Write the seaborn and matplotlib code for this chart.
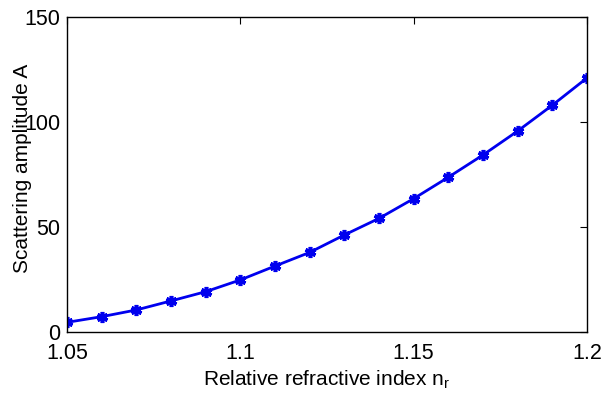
import numpy as np
import pandas as pd
import seaborn as sns
import matplotlib
matplotlib.use("Agg")
import matplotlib.pyplot as plt

# Relative refractive index and the resulting scattering amplitude
n_r = [1.05, 1.06, 1.07, 1.08, 1.09, 1.10, 1.11, 1.12,
       1.13, 1.14, 1.15, 1.16, 1.17, 1.18, 1.19, 1.20]
amplitude = [4.6, 7.3, 10.5, 14.8, 19.2, 24.8, 31.4, 37.9,
             46.2, 54.1, 63.5, 73.7, 84.3, 95.7, 108.0, 121.0]

x_ticks = [1.05, 1.1, 1.15, 1.2]
x_tick_labels = ["1.05", "1.1", "1.15", "1.2"]
y_ticks = [0, 50, 100, 150]

df = pd.DataFrame({"n_r": n_r, "A": amplitude})

sns.set_theme(style="white")
plt.rcParams["font.family"] = ["Liberation Sans", "DejaVu Sans"]
plt.rcParams["mathtext.fontset"] = "custom"
plt.rcParams["mathtext.rm"] = "Liberation Sans"
plt.rcParams["mathtext.it"] = "Liberation Sans"
plt.rcParams["text.color"] = "black"
plt.rcParams["axes.labelcolor"] = "black"

fig = plt.figure(figsize=(6.05, 4.0), dpi=100)
ax = fig.add_axes([67 / 605, 68 / 400, 520 / 605, 315 / 400])

sns.lineplot(data=df, x="n_r", y="A", ax=ax, color="#0000ee",
             linewidth=2.0, marker=(6, 2, 0), markersize=8,
             markeredgewidth=2.6, markeredgecolor="#0000ee")

ax.set_xlim(1.05, 1.2)
ax.set_ylim(0, 150)
ax.set_xticks(x_ticks)
ax.set_xticklabels(x_tick_labels)
ax.set_yticks(y_ticks)

for s in ax.spines.values():
    s.set_color("black")
    s.set_linewidth(1.0)

ax.tick_params(direction="in", length=5, width=0.8, top=True, right=True,
               labelsize=15.5, colors="black", pad=8)
ax.tick_params(axis="y", pad=5)

ax.set_xlabel(r"Relative refractive index n$_{\mathrm{r}}$", fontsize=15,
              labelpad=3, color="black")
ax.set_ylabel("Scattering amplitude A", fontsize=15, color="black")
ax.yaxis.set_label_coords(-0.067, 0.52)

fig.savefig("out.png", dpi=100, facecolor="white")
